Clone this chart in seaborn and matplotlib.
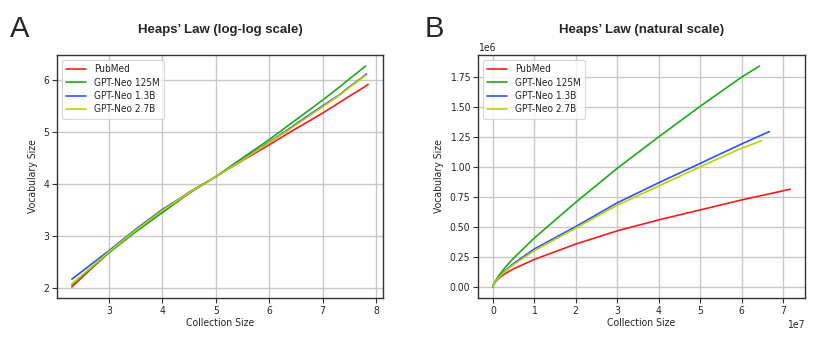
import numpy as np
import pandas as pd
import matplotlib
matplotlib.use("Agg")
import matplotlib.pyplot as plt
from matplotlib import font_manager
import seaborn as sns

# ---- data ----
series_names = ["PubMed", "GPT-Neo 125M", "GPT-Neo 1.3B", "GPT-Neo 2.7B"]
series_colors = ["#ff1a1a", "#1fa81a", "#3050ff", "#b5d600"]

collection_common = [200, 1e3, 3.16e3, 1e4, 3.16e4, 1e5, 3.16e5, 1e6, 2e6, 3.16e6, 5e6,
                     1e7, 2e7, 3e7, 4e7, 5e7, 6e7]
collection_end = [7.17e7, 6.43e7, 6.67e7, 6.48e7]

vocab_pubmed = [105, 490, 1260, 3020, 6920, 13800, 28200, 56200, 87000, 115000, 151000,
                229000, 357000, 467000, 558000, 641000, 724000, 813000]
vocab_125m = [115, 479, 1200, 2820, 6610, 13800, 31600, 70800, 120000, 170000, 240000,
              407000, 705000, 987000, 1249000, 1503000, 1746000, 1838000]
vocab_13b = [148, 525, 1350, 3240, 6760, 13800, 29500, 63100, 102000, 141000, 195000,
             316000, 503000, 700000, 867000, 1028000, 1190000, 1293000]
vocab_27b = [120, 501, 1290, 3090, 6760, 13800, 28800, 61700, 98000, 135000, 186000,
             302000, 490000, 680000, 840000, 1000000, 1155000, 1216000]
vocab_all = [vocab_pubmed, vocab_125m, vocab_13b, vocab_27b]

rows = []
for name, end, vocab in zip(series_names, collection_end, vocab_all):
    for n, v in zip(collection_common + [end], vocab):
        rows.append({"model": name, "n": n, "v": v})
df = pd.DataFrame(rows)
df["logn"] = np.log10(df["n"])
df["logv"] = np.log10(df["v"])

sns.set_theme(style="ticks")
plt.rcParams["font.family"] = ["DejaVu Sans"]
plt.rcParams["font.stretch"] = "condensed"
fp = font_manager.FontProperties(family="DejaVu Sans", stretch="condensed")
print(font_manager.findfont(fp))

fig = plt.figure(figsize=(8.3, 3.37), dpi=100)
W, H = 830, 337
axA = fig.add_axes([57 / W, 1 - 298 / H, 326 / W, 243 / H])
axB = fig.add_axes([478 / W, 1 - 298 / H, 327 / W, 243 / H])

for ax, xcol, ycol in [(axA, "logn", "logv"), (axB, "n", "v")]:
    for name, col in zip(series_names, series_colors):
        sub = df[df["model"] == name]
        sns.lineplot(data=sub, x=xcol, y=ycol, color=col, label=name, ax=ax,
                     sort=False, linewidth=1.2, estimator=None)
    ax.grid(True, color="#c8c8c8", linewidth=1.0)
    ax.set_axisbelow(True)
    for s in ax.spines.values():
        s.set_color("#333333")
        s.set_linewidth(1.0)
    ax.tick_params(labelsize=7.5, length=3.5, width=0.8, color="#333333", pad=2)
    ax.set_xlabel("Collection Size", fontsize=7.5, labelpad=2)
    ax.set_ylabel("Vocabulary Size", fontsize=7.5, labelpad=4)
    leg = ax.legend(loc="upper left", fontsize=7.2, frameon=True, handlelength=2.0,
                    borderpad=0.4, labelspacing=0.35, handletextpad=0.8)
    leg.get_frame().set_edgecolor("#cccccc")
    leg.get_frame().set_linewidth(0.8)
    ax.xaxis.get_offset_text().set_fontsize(7.5)
    ax.yaxis.get_offset_text().set_fontsize(7.5)

axA.set_xticks([3, 4, 5, 6, 7, 8])
axA.set_yticks([2, 3, 4, 5, 6])
axB.set_xticks(np.arange(0, 8) * 1e7)
axB.set_yticks(np.arange(0, 8) * 0.25e6)

axA.set_title("Heaps\u2019 Law (log-log scale)", fontsize=9.5, fontweight="bold",
              family="Liberation Sans", fontstretch="normal", pad=16)
axB.set_title("Heaps\u2019 Law (natural scale)", fontsize=9.5, fontweight="bold",
              family="Liberation Sans", fontstretch="normal", pad=16)
fig.text(10 / W, 1 - 37 / H, "A", fontsize=21, family="Liberation Sans", fontstretch="normal")
fig.text(425 / W, 1 - 37 / H, "B", fontsize=21, family="Liberation Sans", fontstretch="normal")

fig.savefig("out.png", dpi=100)
